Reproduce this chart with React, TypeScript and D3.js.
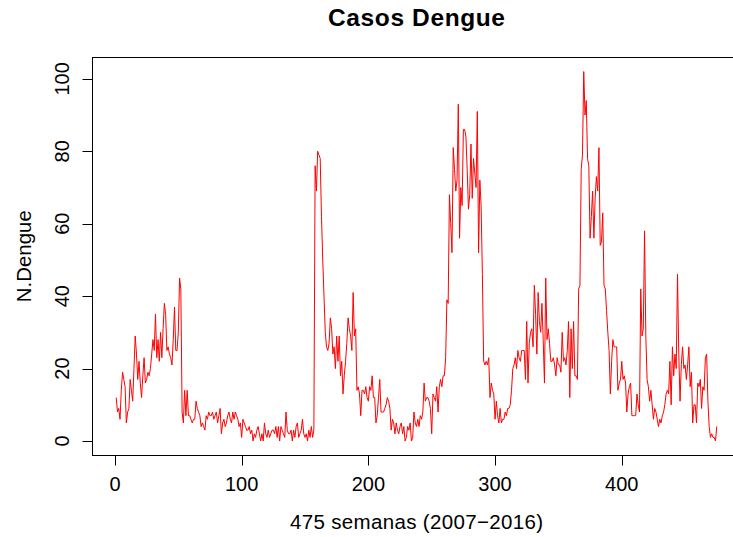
import React from "react";
import * as d3 from "d3";

// Weekly dengue case counts, 475 weeks (2007–2016)
const casos: number[] = [
  12, 8, 9, 6, 14, 19, 17, 15, 5, 8,
  9, 17, 14, 11, 20, 29, 24, 17, 22, 16,
  12, 18, 23, 16, 17, 19, 18, 20, 24, 28,
  25, 35, 23, 28, 22, 30, 23, 31, 38, 35,
  25, 26, 24, 23, 21, 28, 37, 25, 25, 30,
  45, 42, 8, 5, 14, 7, 14, 7, 7, 6,
  5, 6, 6, 11, 9, 8, 7, 4, 5, 4,
  3, 7, 6, 8, 7, 7, 8, 6, 7, 8,
  5, 7, 9, 2, 5, 6, 4, 5, 7, 8,
  6, 5, 8, 6, 8, 7, 6, 4, 5, 1,
  6, 5, 4, 3, 3, 4, 2, 3, 0, 2,
  1, 3, 4, 2, 0, 2, 0, 5, 2, 1,
  3, 1, 2, 3, 3, 2, 4, 1, 4, 0,
  4, 3, 2, 1, 8, 3, 2, 2, 3, 0,
  3, 1, 4, 5, 1, 2, 3, 6, 2, 1,
  2, 0, 3, 1, 4, 1, 3, 76, 69, 80,
  79, 78, 62, 50, 40, 30, 26, 25, 27, 34,
  31, 24, 26, 20, 29, 22, 29, 18, 22, 13,
  18, 22, 27, 34, 31, 29, 25, 41, 29, 31,
  14, 15, 13, 7, 14, 14, 13, 15, 12, 11,
  15, 14, 18, 12, 12, 5, 7, 12, 17, 8,
  8, 8, 9, 10, 12, 11, 9, 3, 6, 5,
  2, 5, 3, 2, 4, 5, 2, 4, 0, 1,
  4, 3, 5, 0, 1, 8, 5, 4, 6, 4,
  7, 6, 8, 16, 11, 12, 12, 11, 9, 2,
  13, 12, 11, 15, 8, 15, 17, 15, 18, 18,
  23, 39, 38, 68, 60, 52, 81, 75, 69, 72,
  93, 56, 70, 65, 86, 86, 84, 75, 64, 68,
  82, 67, 78, 74, 70, 91, 52, 72, 65, 46,
  22, 21, 22, 21, 23, 12, 16, 14, 13, 6,
  11, 7, 5, 9, 5, 6, 6, 8, 7, 9,
  9, 10, 14, 20, 21, 23, 20, 25, 23, 22,
  25, 25, 25, 17, 33, 16, 27, 30, 31, 26,
  43, 35, 24, 41, 33, 30, 38, 28, 16, 45,
  28, 31, 27, 22, 22, 23, 21, 18, 23, 21,
  21, 19, 30, 22, 23, 21, 25, 33, 12, 31,
  20, 33, 18, 18, 17, 42, 43, 75, 79, 102,
  90, 94, 78, 76, 56, 62, 69, 56, 67, 73,
  69, 81, 54, 55, 63, 43, 42, 36, 30, 25,
  13, 22, 28, 26, 26, 26, 14, 16, 17, 22,
  17, 18, 16, 8, 13, 15, 16, 7, 7, 7,
  7, 13, 10, 8, 42, 29, 31, 58, 29, 17,
  15, 11, 14, 10, 6, 9, 8, 6, 4, 6,
  5, 7, 8, 10, 13, 14, 13, 22, 10, 26,
  18, 24, 20, 46, 24, 11, 21, 26, 20, 21,
  17, 21, 26, 15, 19, 5, 10, 10, 5, 16,
  15, 17, 9, 15, 14, 23, 24, 11, 4, 1,
  2, 1, 1, 0, 4,
];

const xTicks: number[] = [0, 100, 200, 300, 400];
const yTicks: number[] = [0, 20, 40, 60, 80, 100];

const titulo = "Casos Dengue";
const xTitulo = "475 semanas (2007\u22122016)";
const yTitulo = "N.Dengue";

const W = 733;
const H = 537;
const plot = { left: 92.2, right: 740.8, top: 56.8, bottom: 455.8 };
const FONT = "'Liberation Sans', Arial, Helvetica, sans-serif";

export default function App() {
  const n = casos.length;
  const maxV = d3.max(casos) ?? 0;
  const xPad = 0.04 * (n - 1);
  const yPad = 0.04 * maxV;

  const x = d3
    .scaleLinear()
    .domain([1 - xPad, n + xPad])
    .range([plot.left, plot.right]);
  const y = d3
    .scaleLinear()
    .domain([0 - yPad, maxV + yPad])
    .range([plot.bottom, plot.top]);

  const line = d3
    .line<number>()
    .x((_, i) => x(i + 1))
    .y((d) => y(d));

  const cx = (plot.left + plot.right) / 2;
  const cy = (plot.top + plot.bottom) / 2;
  const xAxisY = Math.round(plot.bottom) - 0.5;
  const yAxisX = Math.round(plot.left) + 0.5;

  return (
    <svg
      width={W}
      height={H}
      style={{ position: "absolute", left: 0, top: 0, background: "#fff" }}
      fontFamily={FONT}
    >
      <rect x={0} y={0} width={W} height={H} fill="#fff" />
      {/* series */}
      <path d={line(casos) ?? ""} fill="none" stroke="#ff0000" strokeWidth={1} strokeLinejoin="round" />
      {/* frame */}
      <rect
        x={yAxisX}
        y={Math.round(plot.top) + 0.5}
        width={plot.right - yAxisX}
        height={xAxisY - (Math.round(plot.top) + 0.5)}
        fill="none"
        stroke="#000"
        strokeWidth={1}
      />
      {/* x axis */}
      <line x1={x(xTicks[0])} x2={x(xTicks[xTicks.length - 1])} y1={xAxisY} y2={xAxisY} stroke="#000" />
      {xTicks.map((t) => (
        <g key={`xt${t}`}>
          <line x1={Math.round(x(t)) + 0.5} x2={Math.round(x(t)) + 0.5} y1={xAxisY} y2={xAxisY + 10} stroke="#000" />
          <text x={x(t)} y={491} textAnchor="middle" fontSize={20} fill="#000">
            {t}
          </text>
        </g>
      ))}
      {/* y axis */}
      <line x1={yAxisX} x2={yAxisX} y1={y(yTicks[0])} y2={y(yTicks[yTicks.length - 1])} stroke="#000" />
      {yTicks.map((t) => (
        <g key={`yt${t}`}>
          <line x1={yAxisX - 10} x2={yAxisX} y1={Math.round(y(t)) + 0.5} y2={Math.round(y(t)) + 0.5} stroke="#000" />
          <text
            transform={`translate(69,${y(t)}) rotate(-90)`}
            textAnchor="middle"
            fontSize={20}
            fill="#000"
          >
            {t}
          </text>
        </g>
      ))}
      {/* titles */}
      <text
        x={cx}
        y={26}
        textAnchor="middle"
        fontSize={24.5}
        fontWeight="bold"
        textLength={177}
        lengthAdjust="spacing"
        fill="#000"
      >
        {titulo}
      </text>
      <text x={cx} y={528.5} textAnchor="middle" fontSize={20.5} textLength={253} lengthAdjust="spacing" fill="#000">
        {xTitulo}
      </text>
      <text
        transform={`translate(31,${cy}) rotate(-90)`}
        textAnchor="middle"
        fontSize={20.3}
        textLength={92}
        lengthAdjust="spacing"
        fill="#000"
      >
        {yTitulo}
      </text>
    </svg>
  );
}
